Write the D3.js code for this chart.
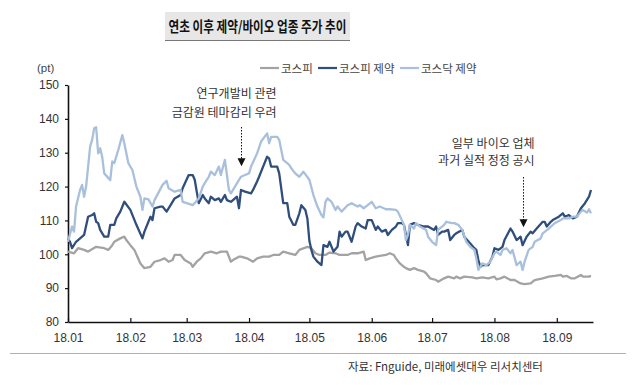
<!DOCTYPE html>
<html>
<head>
<meta charset="utf-8">
<script src="https://cdn.jsdelivr.net/npm/d3@7"></script>
<style>
  body { margin: 0; background: #fff; }
  svg { display: block; }
  .tick text { font-family: "Liberation Sans", Arial, sans-serif; font-size: 12px; fill: #333; }
  .kr { font-family: "Noto Sans CJK KR", sans-serif; }
</style>
</head>
<body>
<svg id="svg" width="640" height="385"></svg>
<script>
// 코스피 (gray)
var kospiDates = ["01-01","01-04","01-06","01-09","01-11","01-15","01-19","01-21","01-23","01-24","01-27","01-29","01-30",
  "02-01","02-03","02-06","02-08","02-11","02-13","02-16","02-18","02-20","02-22","02-23","02-26","02-28",
  "03-03","03-04","03-06","03-08","03-10","03-13","03-16","03-18","03-21","03-23","03-24","03-27","03-28","03-31",
  "04-03","04-05","04-08","04-11","04-13","04-16","04-18","04-21","04-24","04-26","04-30",
  "05-02","05-04","05-06","05-09","05-11","05-14","05-16","05-20","05-22","05-25","05-28","05-29","05-31",
  "06-03","06-05","06-08","06-10","06-12","06-13","06-15","06-17","06-18","06-20","06-22","06-24","06-27","06-28","06-30",
  "07-03","07-04","07-07","07-09","07-12","07-13","07-15","07-17","07-21","07-23","07-26","07-29",
  "08-01","08-02","08-04","08-06","08-09","08-11","08-14","08-16","08-19","08-21","08-25","08-28","08-31",
  "09-03","09-04","09-06","09-08","09-10","09-13","09-14","09-17","09-18"];
var kospiValues = [100.8,100.3,101.8,101.3,100.8,102.2,101.8,101.3,102.7,103.7,104.7,105.2,104.2,
  102.7,101.3,97.3,95.9,96.3,97.8,98.3,98.8,97.8,98.3,99.8,99.8,98.3,
  97.3,96.3,97.8,98.8,100.3,100.8,100.3,100.8,100.8,97.8,98.3,99.3,99.3,98.8,
  97.8,98.8,99.3,99.3,99.8,99.8,100.8,100.3,99.8,101.3,102.2,
  101.8,100.3,99.8,99.8,100.5,100.3,99.8,99.8,100.3,100.3,100.8,98.3,98.8,
  99.3,99.5,99.8,100.3,99.8,98.8,97.3,96.3,95.9,95.4,95.9,95.4,94.9,94.4,92.9,
  92.4,91.9,92.9,93.4,92.9,93.4,92.9,93.4,93.2,92.9,93.2,92.9,
  93.4,92.6,92.9,93.4,92.4,92.4,91.4,91.2,91.4,92.4,92.9,93.4,93.6,
  93.9,93.4,93.6,92.9,92.9,93.9,93.4,93.4,93.6];

// 코스피 제약 (dark blue)
var kospiPharmaDates = ["01-01","01-02","01-03","01-05","01-07","01-09","01-11","01-13","01-14","01-15","01-16","01-17","01-19","01-21",
  "01-22","01-24","01-25","01-27","01-29","02-01","02-04","02-07","02-08","02-11","02-12","02-13","02-16","02-17","02-19",
  "02-21","02-23","02-26","02-27","03-02","03-04","03-05","03-06","03-07","03-09","03-10","03-12","03-13","03-15","03-17",
  "03-18","03-20","03-21","03-23","03-24","03-26","03-27","03-28","03-30","04-02","04-03","04-05","04-06","04-08","04-10",
  "04-11","04-12","04-15","04-16","04-18","04-20","04-21","04-23","04-24","04-26","04-27","04-29","04-30",
  "05-01","05-02","05-03","05-05","05-07","05-08","05-10","05-11","05-13","05-15","05-16","05-17","05-19","05-20","05-22",
  "05-24","05-25","05-27","05-29","05-30","06-01","06-03","06-04","06-06","06-08","06-09","06-11","06-13","06-14","06-16",
  "06-17","06-19","06-20","06-22","06-24","06-27","06-29","07-02","07-03","07-04","07-06","07-07","07-09","07-10","07-12",
  "07-13","07-16","07-17","07-20","07-22","07-23","07-24","07-25","07-26","07-27","07-29","07-31",
  "08-01","08-03","08-05","08-06","08-09","08-10","08-12","08-14","08-15","08-17","08-19","08-20","08-22","08-25","08-26",
  "08-27","08-29","08-30","09-02","09-04","09-05","09-07","09-09","09-11","09-13","09-15","09-17","09-18"];
var kospiPharmaValues = [104.7,103.7,101.8,103.7,104.7,105.7,111.1,111.6,112.1,109.6,109.2,107.2,105.2,105.2,
  108.7,108.7,110.6,112.6,115.5,113.1,108.7,104.7,106.7,111.1,110.1,113.6,114.1,114.1,112.6,
  114.5,116.5,117.5,119.5,123.4,123.4,122.0,118.5,115.1,117.5,116.5,115.1,117.0,116.0,116.5,
  115.5,117.5,116.0,115.5,116.0,117.0,113.6,119.0,118.5,118.0,119.0,121.5,122.9,125.9,128.8,
  128.3,125.9,125.9,123.9,115.1,115.1,111.1,108.7,108.7,112.1,114.5,113.1,110.6,
  104.0,101.3,99.3,97.8,96.8,102.7,102.2,103.7,100.8,102.2,106.7,105.2,106.7,106.7,103.7,
  108.2,109.2,108.2,107.6,110.1,110.1,107.2,108.2,106.7,107.2,105.7,107.2,108.2,109.2,109.2,
  108.7,102.7,108.7,109.2,108.7,108.2,108.2,107.2,108.2,105.7,106.7,106.7,107.2,104.2,105.7,
  106.2,107.2,105.2,103.2,101.8,101.3,98.3,96.3,96.8,96.8,96.8,99.3,
  101.8,101.3,102.2,104.2,107.6,106.7,104.2,105.2,102.7,105.2,106.7,106.2,107.6,109.6,109.6,
  108.2,109.6,110.1,111.1,112.1,111.1,111.6,110.6,111.1,113.6,115.1,117.0,119.0];

// 코스닥 제약 (light blue)
var kosdaqPharmaDates = ["01-01","01-03","01-04","01-05","01-07","01-08","01-09","01-10","01-12","01-13","01-14","01-15","01-16",
  "01-17","01-18","01-19","01-22","01-23","01-24","01-26","01-28","01-29","01-31","02-02","02-04","02-06","02-07","02-08",
  "02-10","02-12","02-13","02-17","02-19","02-20","02-23","02-26","02-27","03-01","03-04","03-07","03-09","03-10","03-12",
  "03-13","03-15","03-17","03-18","03-20","03-22","03-23","03-25","03-27","03-28","03-30","04-01","04-02","04-05","04-07",
  "04-10","04-11","04-12","04-15","04-16","04-18","04-21","04-22","04-24","04-26","04-28",
  "05-01","05-03","05-05","05-07","05-08","05-09","05-10","05-12","05-14","05-15","05-17","05-20","05-22","05-25","05-26",
  "05-28","05-30","06-01","06-03","06-05","06-08","06-10","06-13","06-14","06-17","06-18","06-19","06-20","06-22","06-23",
  "06-25","06-28","06-29","07-01","07-03","07-04","07-07","07-08","07-11","07-12","07-14","07-16","07-18","07-20","07-22",
  "07-23","07-24","07-26","07-28","07-30","08-01","08-02","08-04","08-05","08-07","08-09","08-10","08-12","08-14","08-15",
  "08-16","08-18","08-20","08-21","08-24","08-25","08-28","08-30","08-31","09-03","09-04","09-07","09-09","09-11","09-13",
  "09-14","09-16","09-17","09-18"];
var kosdaqPharmaValues = [103.7,108.2,106.7,114.1,119.0,120.5,117.0,120.0,131.8,133.8,137.2,137.5,129.8,
  131.3,128.8,123.9,121.9,127.4,126.9,130.8,135.2,132.8,126.9,124.9,120.0,117.0,113.1,116.5,
  116.2,114.1,116.0,120.5,121.7,119.5,118.5,119.0,115.5,115.1,114.5,116.5,120.0,121.0,122.9,
  124.4,123.4,125.9,123.4,127.9,119.0,118.0,120.0,122.0,122.9,123.4,123.9,125.9,129.8,133.3,
  135.7,132.8,134.7,134.7,133.8,127.9,126.4,125.4,123.9,122.9,124.4,
  122.0,117.5,114.1,111.6,110.9,115.5,116.5,115.5,113.1,114.1,112.6,114.5,115.1,114.1,114.5,
  113.6,114.5,115.5,113.6,114.1,113.3,113.3,113.1,112.6,108.7,104.2,105.7,108.7,107.6,109.2,
  108.2,107.2,105.2,103.7,102.7,107.2,108.7,109.6,109.2,109.2,108.7,107.2,103.7,102.2,101.3,
  98.8,95.4,97.3,96.8,97.8,100.3,100.8,99.8,101.3,101.8,100.3,101.3,96.8,97.8,95.4,
  97.8,101.3,102.2,103.7,104.7,106.2,107.6,108.7,109.2,110.1,110.6,110.6,111.1,111.1,112.6,
  113.1,112.3,113.3,112.1];

var seriesNames = ["코스피", "코스피 제약", "코스닥 제약"];
var seriesColors = ["#a3a3a3", "#2f4e7c", "#a9c0dc"];
var yTicks = [80, 90, 100, 110, 120, 130, 140, 150];

var annotations = [
  { date: "03-28", lines: ["연구개발비 관련", "금감원 테마감리 우려"], from: 137.6, to: 126 },
  { date: "08-15", lines: ["일부 바이오 업체", "과거 실적 정정 공시"], from: 122.8, to: 108 }
];

var parseDate = d3.timeParse("%Y-%m-%d");
function md(s) { return parseDate("2018-" + s); }

var series = [
  { name: seriesNames[0], color: seriesColors[0], dates: kospiDates, values: kospiValues },
  { name: seriesNames[1], color: seriesColors[1], dates: kospiPharmaDates, values: kospiPharmaValues },
  { name: seriesNames[2], color: seriesColors[2], dates: kosdaqPharmaDates, values: kosdaqPharmaValues }
];
series.forEach(function(s) {
  s.points = s.dates.map(function(d, i) { return { date: md(d), value: s.values[i] }; });
});

var svg = d3.select("#svg");

var x = d3.scaleTime().domain([md("01-01"), md("09-19")]).range([68, 593]);
var y = d3.scaleLinear().domain([80, 150]).range([322, 85]);

// title box
svg.append("rect").attr("x", 165).attr("y", 12).attr("width", 185).attr("height", 29)
  .attr("fill", "#e7e7e7");
svg.append("line").attr("x1", 165).attr("x2", 350).attr("y1", 40.5).attr("y2", 40.5)
  .attr("stroke", "#777").attr("stroke-width", 1.2);
svg.append("text").attr("class", "kr").attr("x", 257.5).attr("y", 32)
  .attr("text-anchor", "middle").attr("font-size", 14.5).attr("font-weight", 700)
  .attr("fill", "#111").attr("textLength", 178).attr("lengthAdjust", "spacingAndGlyphs")
  .text("연초 이후 제약/바이오 업종 주가 추이");

// unit
svg.append("text").attr("x", 37).attr("y", 72).attr("font-family", "Liberation Sans, Arial, sans-serif")
  .attr("font-size", 11.5).attr("fill", "#444").text("(pt)");

// legend
var legendX = [260, 318, 400];
var legend = svg.selectAll(".legend").data(series).enter().append("g")
  .attr("class", "legend")
  .attr("transform", function(d, i) { return "translate(" + legendX[i] + ",68)"; });
legend.append("line").attr("x1", 0).attr("x2", 19).attr("stroke", function(d) { return d.color; })
  .attr("stroke-width", 2.2);
legend.append("text").attr("class", "kr").attr("x", 21).attr("y", 4.5)
  .attr("font-size", 11.5).attr("fill", "#444").text(function(d) { return d.name; });

// axes
var yAxis = svg.append("g").attr("transform", "translate(68,0)")
  .call(d3.axisLeft(y).tickValues(yTicks).tickSizeInner(3).tickSizeOuter(0).tickPadding(6));
var xAxis = svg.append("g").attr("transform", "translate(0,322)")
  .call(d3.axisBottom(x).ticks(d3.timeMonth.every(1)).tickFormat(d3.timeFormat("%y.%m"))
    .tickSizeInner(-4).tickSizeOuter(0).tickPadding(11));
[yAxis, xAxis].forEach(function(ax) {
  ax.select(".domain").attr("stroke", "#111").attr("stroke-width", 1.6);
  ax.selectAll(".tick line").attr("stroke", "#111").attr("stroke-width", 1.2);
});

// lines
var line = d3.line().x(function(d) { return x(d.date); }).y(function(d) { return y(d.value); });
svg.selectAll(".series").data(series).enter().append("path")
  .attr("class", "series")
  .attr("fill", "none")
  .attr("stroke", function(d) { return d.color; })
  .attr("stroke-width", 2.3)
  .attr("stroke-linejoin", "round")
  .attr("d", function(d) { return line(d.points); });

// annotations
var textRight = [35, 11];
var textTop = [29, 29];
var lineGap = [19, 17];
annotations.forEach(function(a, i) {
  var ax = Math.round(x(md(a.date))) + 0.5;
  var y0 = y(a.from), y1 = y(a.to);
  svg.append("line").attr("x1", ax).attr("x2", ax).attr("y1", y0).attr("y2", y1 - 7)
    .attr("stroke", "#111").attr("stroke-width", 1).attr("stroke-dasharray", "1.5,1.5");
  svg.append("path").attr("d", "M" + (ax - 4) + "," + (y1 - 8) + "L" + (ax + 4) + "," + (y1 - 8) + "L" + ax + "," + y1 + "Z")
    .attr("fill", "#111");
  a.lines.forEach(function(t, j) {
    svg.append("text").attr("class", "kr").attr("x", ax + textRight[i])
      .attr("y", y0 - textTop[i] + j * lineGap[i])
      .attr("text-anchor", "end").attr("font-size", 12).attr("fill", "#333")
      .text(t);
  });
});

// bottom rule and source
svg.append("line").attr("x1", 10).attr("x2", 626).attr("y1", 353.5).attr("y2", 353.5)
  .attr("stroke", "#b0b0b0").attr("stroke-width", 1);
svg.append("text").attr("class", "kr").attr("x", 348).attr("y", 371).attr("font-size", 11.5)
  .attr("fill", "#333").text("자료: Fnguide, 미래에셋대우 리서치센터");
</script>
</body>
</html>
